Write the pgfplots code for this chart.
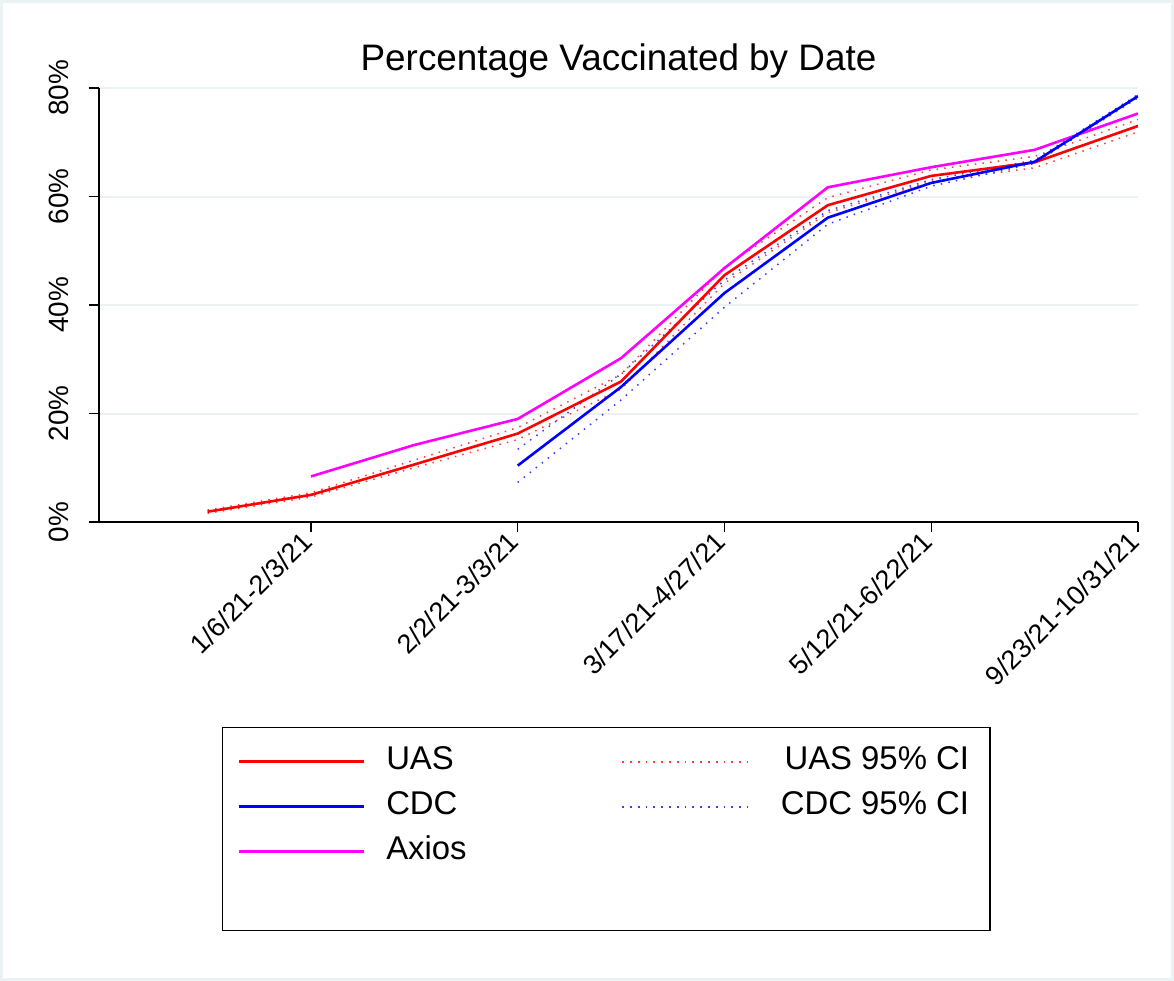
\documentclass[border=0pt]{standalone}
\usepackage{fontspec}
\setmainfont{Liberation Sans}
\usepackage{pgfplots}
\pgfplotsset{compat=1.18}
\definecolor{ltbg}{RGB}{234,242,243}
\definecolor{uasline}{RGB}{255,0,0}
\definecolor{cdcline}{RGB}{0,0,255}
\definecolor{axline}{RGB}{255,0,255}
\definecolor{uasci}{RGB}{255,60,60}
\definecolor{cdcci}{RGB}{60,60,255}
\begin{document}
\begin{tikzpicture}
\useasboundingbox (-99bp,-459bp) rectangle (1075bp,522bp);
\draw[ltbg, line width=3bp] (-97.5bp,-457.5bp) rectangle (1073.5bp,520.5bp);
\begin{axis}[
  at={(0,0)}, anchor=south west,
  scale only axis,
  width=1039bp, height=434bp,
  xmin=-0.05, xmax=10, ymin=0, ymax=80,
  axis x line*=bottom, axis y line*=left,
  axis line style={black, line width=1.3bp},
  xtick={2,4,6,8,10},
  xticklabels={1/6/21-2/3/21,2/2/21-3/3/21,3/17/21-4/27/21,5/12/21-6/22/21,9/23/21-10/31/21},
  ytick={0,20,40,60,80},
  yticklabels={0\%,20\%,40\%,60\%,80\%},
  tick align=outside,
  major tick length=10bp,
  tick style={black, line width=1.3bp},
  ymajorgrids,
  grid style={ltbg, line width=2bp},
  xticklabel style={font=\fontsize{27}{30}\selectfont, rotate=45, anchor=north east, inner sep=1bp, xshift=-5bp, yshift=10.5bp},
  yticklabel style={font=\fontsize{28}{30}\selectfont, rotate=90, anchor=base, inner sep=0bp, yshift=20bp},
  title={Percentage Vaccinated by Date},
  title style={font=\fontsize{37}{40}\selectfont, at={(axis description cs:0.5,1)}, anchor=base, yshift=12bp},
  legend columns=2,
  legend cell align=left,
  legend image code/.code={\draw[#1] (0bp,0bp) -- (125bp,0bp);},
  legend style={
    at={(axis description cs:0.1184,-0.4724)}, anchor=north west,
    draw=black, line width=1.3bp,
    font=\fontsize{33}{36}\selectfont,
    inner xsep=15bp, inner ysep=18bp,
    nodes={inner sep=0bp, text height=24bp, text depth=8bp},
    /tikz/column sep=21bp,
    /tikz/row sep=13bp,
    /tikz/every even column/.append style={column sep=35bp},
  },
]
% CI lines
\addplot[forget plot, uasci, line width=1.5bp, dash pattern=on 1.5bp off 6.2bp] coordinates {
 (1,1.6) (2,4.6) (3,10.0) (4,15.2) (5,24.5) (6,44.0) (7,57.0) (8,62.8) (9,65.3) (10,71.9)};
\addplot[forget plot, uasci, line width=1.5bp, dash pattern=on 1.5bp off 6.2bp] coordinates {
 (1,2.2) (2,5.4) (3,11.4) (4,17.4) (5,27.2) (6,47.0) (7,59.8) (8,64.9) (9,67.4) (10,74.2)};
\addplot[forget plot, cdcci, line width=1.5bp, dash pattern=on 1.5bp off 6.2bp] coordinates {
 (4,7.3) (5,22.5) (6,39.6) (7,54.9) (8,61.9) (9,66.1) (10,78.2)};
\addplot[forget plot, cdcci, line width=1.5bp, dash pattern=on 1.5bp off 6.2bp] coordinates {
 (4,13.4) (5,27.3) (6,44.6) (7,57.4) (8,63.1) (9,66.7) (10,78.8)};
% main lines
\addplot[forget plot, axline, line width=2.6bp] coordinates {
 (2,8.4) (3,14.2) (4,19.0) (5,30.2) (6,46.8) (7,61.7) (8,65.4) (9,68.6) (10,75.3)};
\addplot[forget plot, uasline, line width=2.6bp] coordinates {
 (1,1.9) (2,5.0) (3,10.6) (4,16.3) (5,25.9) (6,45.5) (7,58.4) (8,63.8) (9,66.3) (10,73.0)};
\addplot[forget plot, cdcline, line width=2.6bp] coordinates {
 (4,10.4) (5,24.9) (6,42.2) (7,56.1) (8,62.5) (9,66.4) (10,78.5)};
% legend
\addlegendimage{draw=uasline, line width=2.6bp}
\addlegendentry{\makebox[200bp][l]{UAS}}
\addlegendimage{draw=uasci, line width=1.8bp, dash pattern=on 1.8bp off 6bp}
\addlegendentry{\makebox[206bp][l]{\makebox[200bp][r]{UAS 95\% CI}}}
\addlegendimage{draw=cdcline, line width=2.6bp}
\addlegendentry{\makebox[200bp][l]{CDC}}
\addlegendimage{draw=cdcci, line width=1.8bp, dash pattern=on 1.8bp off 6bp}
\addlegendentry{\makebox[206bp][l]{\makebox[200bp][r]{CDC 95\% CI}}}
\addlegendimage{draw=axline, line width=2.6bp}
\addlegendentry{\makebox[200bp][l]{Axios}}
\addlegendimage{empty legend}
\addlegendentry{}
\addlegendimage{empty legend}
\addlegendentry{}
\addlegendimage{empty legend}
\addlegendentry{}
\end{axis}
\end{tikzpicture}
\end{document}
